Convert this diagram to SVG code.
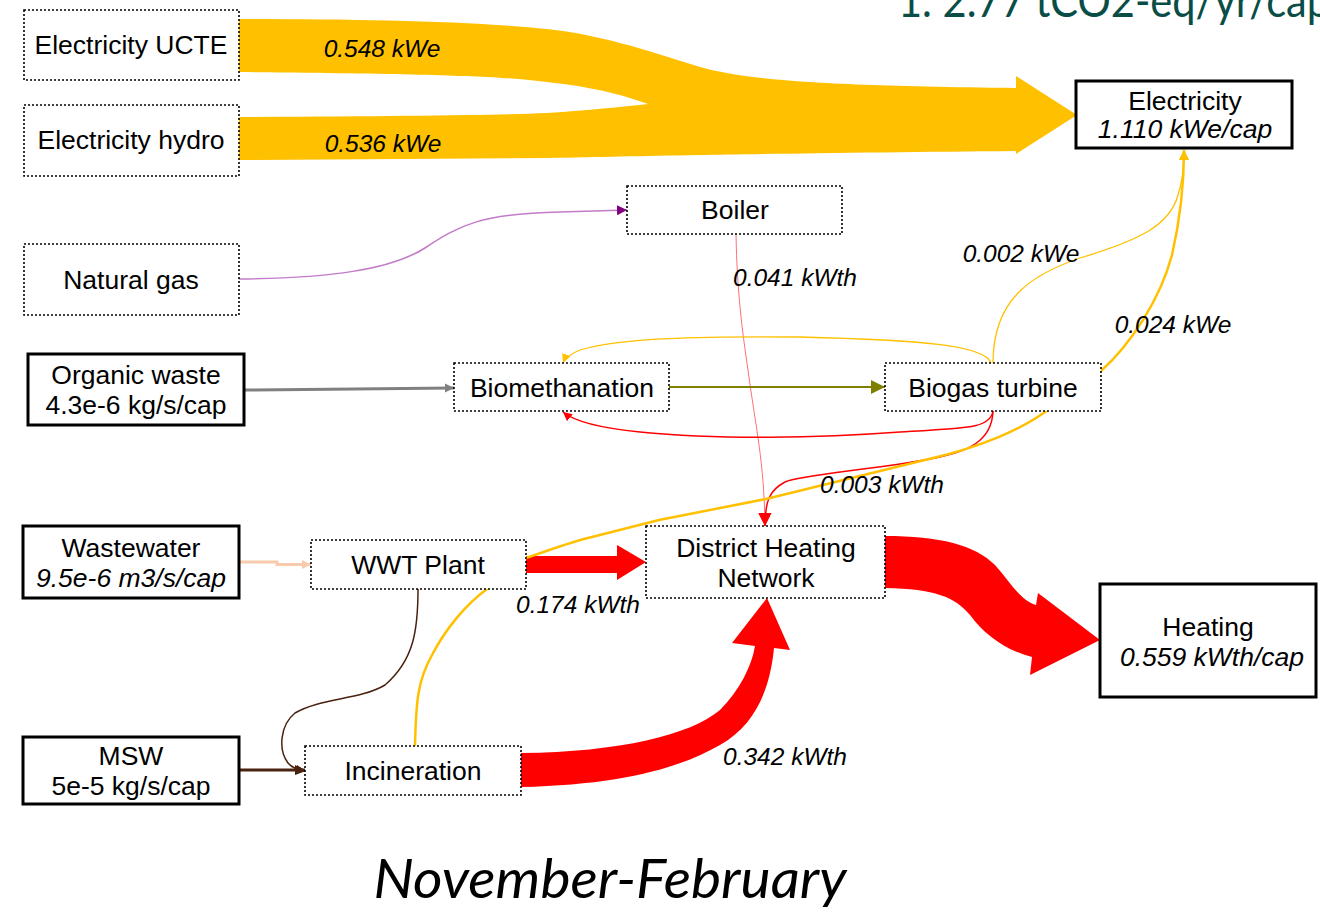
<svg xmlns="http://www.w3.org/2000/svg" width="1320" height="914" viewBox="0 0 1320 914">
  <style>
    .node rect { fill: #ffffff; stroke: #000000; }
    .proc rect { stroke-width: 1.6; stroke-dasharray: 2 2; }
    .io rect { stroke-width: 3; }
    .node text { font-family: "Liberation Sans", Arial, sans-serif; font-size: 26.5px; fill: #000000; text-anchor: middle; }
    .node text.it { font-style: italic; }
    .lbl { font-family: "Liberation Sans", Arial, sans-serif; font-size: 24.5px; font-style: italic; fill: #000000; text-anchor: middle; }
    .edge { fill: none; }
    .band-e { fill: #FFC000; }
    .band-h { fill: #FF0000; }
  </style>
  <defs>
    <marker id="ah-purple" viewBox="0 0 10 10" refX="10" refY="5" markerUnits="userSpaceOnUse" markerWidth="10" markerHeight="10" orient="auto">
      <path d="M0,0 L10,5 L0,10 z" fill="#800080"/>
    </marker>
    <marker id="ah-red" viewBox="0 0 10 10" refX="10" refY="5" markerUnits="userSpaceOnUse" markerWidth="14" markerHeight="13" orient="auto">
      <path d="M0,0 L10,5 L0,10 z" fill="#FF0000"/>
    </marker>
    <marker id="ah-red-s" viewBox="0 0 10 10" refX="10" refY="5" markerUnits="userSpaceOnUse" markerWidth="9" markerHeight="9" orient="auto">
      <path d="M0,0 L10,5 L0,10 z" fill="#FF0000"/>
    </marker>
    <marker id="ah-yellow-s" viewBox="0 0 10 10" refX="10" refY="5" markerUnits="userSpaceOnUse" markerWidth="9" markerHeight="9" orient="auto">
      <path d="M0,0 L10,5 L0,10 z" fill="#FFC000"/>
    </marker>
    <marker id="ah-yellow" viewBox="0 0 10 10" refX="10" refY="5" markerUnits="userSpaceOnUse" markerWidth="10" markerHeight="12" orient="auto">
      <path d="M0,0 L10,5 L0,10 z" fill="#FFC000"/>
    </marker>
    <marker id="ah-gray" viewBox="0 0 10 10" refX="10" refY="5" markerUnits="userSpaceOnUse" markerWidth="9" markerHeight="10" orient="auto">
      <path d="M0,0 L10,5 L0,10 z" fill="#808080"/>
    </marker>
    <marker id="ah-olive" viewBox="0 0 10 10" refX="10" refY="5" markerUnits="userSpaceOnUse" markerWidth="14" markerHeight="15" orient="auto">
      <path d="M0,0 L10,5 L0,10 z" fill="#808000"/>
    </marker>
    <marker id="ah-peach" viewBox="0 0 10 10" refX="10" refY="5" markerUnits="userSpaceOnUse" markerWidth="9" markerHeight="9" orient="auto">
      <path d="M0,0 L10,5 L0,10 z" fill="#F8CBAD"/>
    </marker>
    <marker id="ah-brown" viewBox="0 0 10 10" refX="10" refY="5" markerUnits="userSpaceOnUse" markerWidth="10" markerHeight="10" orient="auto">
      <path d="M0,0 L10,5 L0,10 z" fill="#4A2210"/>
    </marker>
  </defs>

  <rect x="0" y="0" width="1320" height="914" fill="#ffffff"/>

  <!-- headline, clipped by the top edge -->
  <text x="898" y="17" font-family="Lato, 'Open Sans', sans-serif" font-size="47" fill="#0A4D47" textLength="432" lengthAdjust="spacingAndGlyphs">1. 2.77 tCO2-eq/yr/cap</text>

  <g id="connectors">
    <!-- electricity imports merging into one band -->
    <path id="e-imports" class="band-e" d="M239,19 C350,19 470,21 547,29 C600,35 640,48 700,67 C740,78 800,86 1016,88 L1016,76 L1077,115 L1016,154 L1016,151 C900,152 760,154 700,155 C640,156 600,157 547,158 L239,160 L239,117 C400,116 500,115 547,113 C590,110 620,107 648,104 C625,96 600,88 547,82 C500,76 440,74 239,72 Z"/>
    <!-- heat bands -->
    <path id="h-wwt-dhn" class="band-h" d="M526,556 L617,556 L617,545 L646,562 L617,580 L617,573 L526,573 Z"/>
    <path id="h-inc-dhn" class="band-h" d="M521,753 C620,752 690,735 720,710 C740,690 752,665 755,646 L732,643 L767,598 L790,650 L774,648 C770,690 755,725 720,745 C680,768 620,785 521,787 Z"/>
    <path id="h-dhn-heat" class="band-h" d="M885,536 C940,536 975,545 995,565 C1010,582 1020,600 1036,605 L1038,593 L1100,640 L1030,675 L1032,657 C1005,650 985,635 970,615 C955,597 935,589 885,588 Z"/>

    <!-- thin flows -->
    <path id="gas-boiler" class="edge" stroke="#C37BC8" stroke-width="1.5" d="M239,279 C330,278 390,270 425,248 C460,225 480,214 560,212 L627,210" marker-end="url(#ah-purple)"/>
    <path id="boiler-dhn" class="edge" stroke="#FF7070" stroke-width="1" d="M736,234 C737,290 742,330 748,370 C756,430 764,460 765,526" marker-end="url(#ah-red)"/>
    <path id="turb-dhn" class="edge" stroke="#FF0000" stroke-width="1.5" d="M993,411 C992,440 970,452 930,459 C870,470 800,475 785,482 C770,490 765,500 765,526" marker-end="url(#ah-red)"/>
    <path id="turb-bio-heat" class="edge" stroke="#FF0000" stroke-width="1.5" d="M993,411 C990,430 960,428 900,432 C820,438 720,440 640,432 C600,428 575,422 563,412" marker-end="url(#ah-red-s)"/>
    <path id="turb-bio-el" class="edge" stroke="#FFC000" stroke-width="1.3" d="M991,363 C985,345 920,340 800,337 C700,336 620,338 580,350 C570,354 565,358 563,363" marker-end="url(#ah-yellow-s)"/>
    <path id="turb-el" class="edge" stroke="#FFC000" stroke-width="1.3" d="M993,363 C993,300 1030,275 1080,258 C1140,240 1170,225 1178,195 C1183,180 1184,165 1184,150" marker-end="url(#ah-yellow)"/>
    <path id="inc-el" class="edge" stroke="#FFC000" stroke-width="2.5" d="M415,746 C416,700 418,680 432,655 C445,630 465,605 487,589 L526,558 C550,550 570,542 592,537 L659,520 L766,499 L933,458 C980,447 1020,430 1045,412 L1101,371 C1130,345 1160,300 1172,255 C1180,220 1184,190 1184,150" marker-end="url(#ah-yellow)"/>
    <path id="org-bio" class="edge" stroke="#808080" stroke-width="3" d="M244,390 L454,388" marker-end="url(#ah-gray)"/>
    <path id="bio-turb" class="edge" stroke="#808000" stroke-width="2" d="M669,387 L885,387" marker-end="url(#ah-olive)"/>
    <path id="ww-wwt" class="edge" stroke="#F8CBAD" stroke-width="3" d="M239,562 L277,562 L277,564.5 L311,564.5" marker-end="url(#ah-peach)"/>
    <path id="wwt-inc" class="edge" stroke="#4A2210" stroke-width="1.5" d="M418,589 C418,630 414,660 385,685 C360,700 320,698 295,713 C280,725 278,750 288,763 C292,768 298,770 306,771" marker-end="url(#ah-brown)"/>
    <path id="msw-inc" class="edge" stroke="#4A2210" stroke-width="3" d="M239,770 L305,770" marker-end="url(#ah-brown)"/>
  </g>

  <g id="flow-labels">
    <text class="lbl" x="382" y="57">0.548 kWe</text>
    <text class="lbl" x="383" y="152">0.536 kWe</text>
    <text class="lbl" x="795" y="286">0.041 kWth</text>
    <text class="lbl" x="1021" y="262">0.002 kWe</text>
    <text class="lbl" x="1173" y="333">0.024 kWe</text>
    <text class="lbl" x="882" y="493">0.003 kWth</text>
    <text class="lbl" x="578" y="613">0.174 kWth</text>
    <text class="lbl" x="785" y="765">0.342 kWth</text>
  </g>

  <g id="n-elec-ucte" class="node proc"><rect x="24" y="10" width="215" height="70"/><text x="131" y="54">Electricity UCTE</text></g>
  <g id="n-elec-hydro" class="node proc"><rect x="24" y="105" width="215" height="71"/><text x="131" y="149">Electricity hydro</text></g>
  <g id="n-natgas" class="node proc"><rect x="24" y="244" width="215" height="71"/><text x="131" y="289">Natural gas</text></g>
  <g id="n-boiler" class="node proc"><rect x="627" y="186" width="215" height="48"/><text x="735" y="219">Boiler</text></g>
  <g id="n-biometh" class="node proc"><rect x="454" y="363" width="215" height="48"/><text x="562" y="397">Biomethanation</text></g>
  <g id="n-turbine" class="node proc"><rect x="885" y="363" width="216" height="48"/><text x="993" y="397">Biogas turbine</text></g>
  <g id="n-wwt" class="node proc"><rect x="311" y="540" width="215" height="49"/><text x="418" y="574">WWT Plant</text></g>
  <g id="n-dhn" class="node proc"><rect x="646" y="526" width="239" height="72"/><text x="766" y="557">District Heating</text><text x="766" y="587">Network</text></g>
  <g id="n-incin" class="node proc"><rect x="305" y="746" width="216" height="49"/><text x="413" y="780">Incineration</text></g>

  <g id="n-electricity" class="node io"><rect x="1076" y="81" width="216" height="67"/><text x="1185" y="110">Electricity</text><text class="it" x="1185" y="138">1.110 kWe/cap</text></g>
  <g id="n-organic" class="node io"><rect x="28" y="354" width="216" height="71"/><text x="136" y="384">Organic waste</text><text x="136" y="414">4.3e-6 kg/s/cap</text></g>
  <g id="n-wastewater" class="node io"><rect x="23" y="526" width="216" height="72"/><text x="131" y="557">Wastewater</text><text class="it" x="131" y="587">9.5e-6 m3/s/cap</text></g>
  <g id="n-msw" class="node io"><rect x="23" y="737" width="216" height="67"/><text x="131" y="765">MSW</text><text x="131" y="795">5e-5 kg/s/cap</text></g>
  <g id="n-heating" class="node io"><rect x="1100" y="584" width="216" height="113"/><text x="1208" y="636">Heating</text><text class="it" x="1212" y="666">0.559 kWth/cap</text></g>

  <text id="period" x="610" y="898" font-family="Lato, 'Open Sans', sans-serif" font-size="54" font-style="italic" fill="#000000" text-anchor="middle" textLength="473" lengthAdjust="spacingAndGlyphs">November-February</text>
</svg>
